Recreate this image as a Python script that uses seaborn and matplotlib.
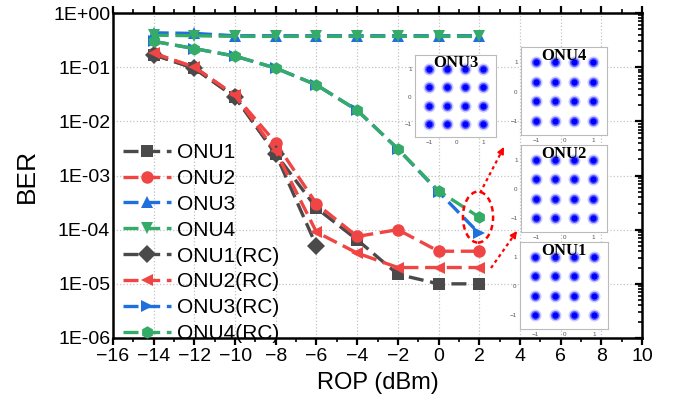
import numpy as np
import pandas as pd
import matplotlib
matplotlib.use('Agg')
import matplotlib.pyplot as plt
import seaborn as sns
from matplotlib.patches import Ellipse
from matplotlib.ticker import MultipleLocator, FixedLocator, FuncFormatter, LogLocator, NullFormatter

sns.set_theme(style='white')
plt.rcParams['font.family'] = ['Liberation Sans', 'DejaVu Sans']

# ---------------- data ----------------
rop = [-14, -12, -10, -8, -6, -4, -2, 0, 2]
onu1 = [0.17, 0.095, 0.028, 0.0025, 2.5e-4, 6.5e-5, 1.5e-5, 1.0e-5, 1.0e-5]
onu2 = [0.18, 0.10, 0.030, 0.0040, 3.0e-4, 7.5e-5, 1.0e-4, 4.0e-5, 4.0e-5]
onu3 = [0.43, 0.42, 0.38, 0.38, 0.38, 0.38, 0.38, 0.38, 0.38]
onu4 = [0.39, 0.38, 0.37, 0.37, 0.37, 0.37, 0.37, 0.37, 0.37]
onu1_rc = [0.17, 0.095, 0.028, 0.0025, 5.0e-5, None, None, None, None]
onu2_rc = [0.18, 0.10, 0.030, 0.0028, 9.0e-5, 3.7e-5, 2.0e-5, 2.0e-5, 2.0e-5]
onu3_rc = [0.30, 0.22, 0.16, 0.096, 0.047, 0.016, 0.0031, 5.0e-4, 8.5e-5]
onu4_rc = [0.30, 0.22, 0.16, 0.096, 0.047, 0.016, 0.0031, 5.2e-4, 1.7e-4]

series_names = ['ONU1', 'ONU2', 'ONU3', 'ONU4', 'ONU1(RC)', 'ONU2(RC)', 'ONU3(RC)', 'ONU4(RC)']
series_values = [onu1, onu2, onu3, onu4, onu1_rc, onu2_rc, onu3_rc, onu4_rc]

y_ticks = [1e0, 1e-1, 1e-2, 1e-3, 1e-4, 1e-5, 1e-6]
y_tick_labels = ['1E+00', '1E-01', '1E-02', '1E-03', '1E-04', '1E-05', '1E-06']
x_ticks = list(range(-16, 11, 2))

# 16-QAM ideal levels for the constellation insets
qam_levels = [-1.0, -1/3, 1/3, 1.0]
inset_titles = ['ONU3', 'ONU4', 'ONU2', 'ONU1']

# ---------------- styles ----------------
GRAY = '#4a4a4a'
RED = '#f04545'
BLUE = '#1f6fdc'
GREEN = '#35ab68'
color_map = {'ONU1': GRAY, 'ONU2': RED, 'ONU3': BLUE, 'ONU4': GREEN,
             'ONU1(RC)': GRAY, 'ONU2(RC)': RED, 'ONU3(RC)': BLUE, 'ONU4(RC)': GREEN}
marker_map = {'ONU1': 's', 'ONU2': 'o', 'ONU3': '^', 'ONU4': 'v',
              'ONU1(RC)': 'D', 'ONU2(RC)': '<', 'ONU3(RC)': '>', 'ONU4(RC)': 'h'}
dash_map = {n: (4.5, 2.0) for n in series_names}

rows = []
for name, vals in zip(series_names, series_values):
    for x, y in zip(rop, vals):
        if y is not None:
            rows.append({'ROP': x, 'BER': y, 'Series': name})
df = pd.DataFrame(rows)

W, H = 673, 409
fig = plt.figure(figsize=(W / 100, H / 100), dpi=100)
ax = fig.add_axes([113 / W, 1 - 338 / H, (642 - 113) / W, (338 - 13) / H])

sns.lineplot(data=df, x='ROP', y='BER', hue='Series', style='Series',
             hue_order=series_names, style_order=series_names,
             palette=color_map, markers=marker_map, dashes=dash_map,
             linewidth=2.4, markersize=9, markeredgewidth=0, ax=ax)

ax.set_yscale('log')
ax.set_xlim(-16, 10)
ax.set_ylim(1e-6, 1)
ax.yaxis.set_major_locator(FixedLocator(y_ticks))
ax.yaxis.set_major_formatter(FuncFormatter(lambda v, p: y_tick_labels[y_ticks.index(v)] if v in y_ticks else ''))
ax.yaxis.set_minor_locator(LogLocator(base=10, subs=np.arange(2, 10)))
ax.yaxis.set_minor_formatter(NullFormatter())
ax.set_xticks(x_ticks)
ax.xaxis.set_minor_locator(MultipleLocator(1))

ax.grid(True, which='major', color='#c4c4c4', linestyle=':', linewidth=0.9)
for s in ax.spines.values():
    s.set_color('black')
    s.set_linewidth(1.8)
ax.tick_params(axis='both', which='major', direction='out', length=5, width=1.6,
               labelsize=14, colors='black', pad=2)
ax.tick_params(axis='both', which='minor', direction='out', length=3, width=1.2, colors='black')
ax.tick_params(axis='y', which='minor', direction='in', length=3)
ax.tick_params(top=True, right=True, which='both', direction='in')
ax.tick_params(axis='x', which='both', bottom=True, direction='out')

ax.set_xlabel('ROP (dBm)', fontsize=17, labelpad=5, color='black')
ax.set_ylabel('BER', fontsize=19, labelpad=10, color='black')

# legend
handles, labels = ax.get_legend_handles_labels()
leg = ax.legend(handles, labels, loc='upper left', bbox_to_anchor=(123 / W, 1 - 143 / H),
                bbox_transform=fig.transFigure, frameon=False, fontsize=15,
                handlelength=2.3, handletextpad=0.3, labelspacing=0.33,
                borderpad=0, borderaxespad=0)
for t in leg.get_texts():
    t.set_color('black')

# ellipse and arrows
ax.add_patch(Ellipse((0.690, 0.372), 0.057, 0.157, transform=ax.transAxes,
                     fill=False, ec='red', ls=(0, (2.2, 1.6)), lw=1.8, zorder=5))


def fig_pt(px, py):
    return (px / W, 1 - py / H)


def dotted_arrow(p0, p1):
    x0, y0 = fig_pt(*p0)
    x1, y1 = fig_pt(*p1)
    fig.add_artist(matplotlib.lines.Line2D([x0, x1], [y0, y1], transform=fig.transFigure,
                                           color='red', lw=1.6, ls=(0, (1.5, 1.5))))
    ax.annotate('', xy=(x1, y1), xytext=(x1 - (x1 - x0) * 0.15, y1 - (y1 - y0) * 0.15),
                xycoords='figure fraction', textcoords='figure fraction',
                arrowprops=dict(arrowstyle='-|>', color='red', lw=1.2,
                                mutation_scale=10, shrinkA=0, shrinkB=0))


dotted_arrow((480, 193), (504, 147))
dotted_arrow((491, 268), (517, 231))

# constellation insets
inset_boxes = [(415, 55, 496, 137), (521, 47, 607, 135), (521, 145, 607, 232), (520, 242, 608, 329)]
for (l, t, r, b), title in zip(inset_boxes, inset_titles):
    iax = fig.add_axes([l / W, 1 - b / H, (r - l) / W, (b - t) / H])
    iax.set_facecolor('white')
    I, Q = np.meshgrid(qam_levels, qam_levels)
    iax.scatter(I.ravel(), Q.ravel(), s=75, color='#4a4aff', alpha=0.3, linewidths=0)
    iax.scatter(I.ravel(), Q.ravel(), s=42, color='#1a1aff', alpha=0.6, linewidths=0)
    iax.scatter(I.ravel(), Q.ravel(), s=20, color='#0000ff', linewidths=0)
    iax.set_xlim(-1.52, 1.48)
    iax.set_ylim(-1.47, 1.51)
    iax.set_xticks([-1, 0, 1])
    iax.set_yticks([-1, 0, 1])
    iax.tick_params(labelsize=4.5, length=1.5, width=0.4, colors='#555555', pad=1)
    for s in iax.spines.values():
        s.set_color('#bbbbbb')
        s.set_linewidth(0.8)
    iax.text(0.5, 0.90, title, transform=iax.transAxes, ha='center', va='center',
             fontsize=12, fontweight='bold', family=['Liberation Serif', 'DejaVu Serif'],
             color='black')

fig.savefig('out.png', dpi=100)
